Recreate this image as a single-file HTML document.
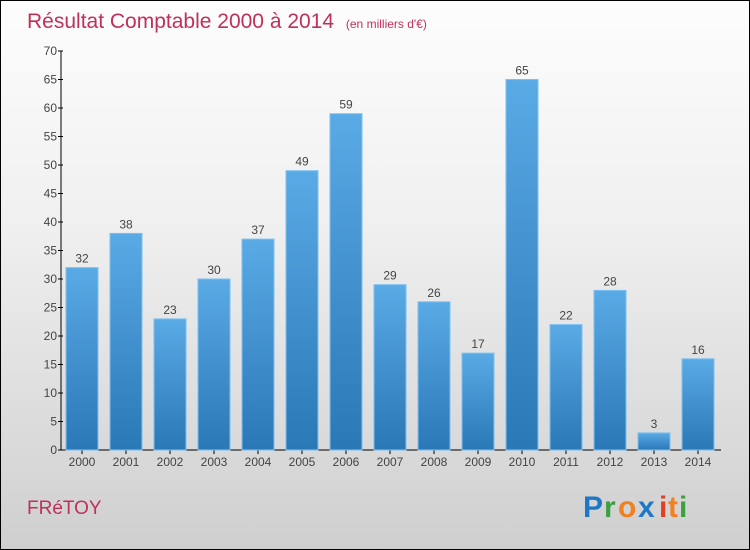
<!DOCTYPE html>
<html><head><meta charset="utf-8"><style>
body{margin:0}
#wrap{position:relative;width:748px;height:548px;border:1px solid #000;background:linear-gradient(#fdfdfd,#f0f0f0 40%,#cfcfcf);font-family:"Liberation Sans",sans-serif;overflow:hidden}
</style></head><body>
<div id="wrap">
<svg id="chart" width="748" height="548" xmlns="http://www.w3.org/2000/svg">
<defs><linearGradient id="bg" x1="0" y1="0" x2="0" y2="1"><stop offset="0" stop-color="#5aaae6"/><stop offset="1" stop-color="#2a78b6"/></linearGradient></defs>
<text x="26" y="27" font-size="21" fill="#c0305a">Résultat Comptable 2000 à 2014 <tspan font-size="12" dx="6">(en milliers d'€)</tspan></text>
<text x="26" y="513" font-size="19" fill="#c0305a">FRéTOY</text>
<g font-size="30" font-weight="bold">
<text x="582" y="516" fill="#1e78c8">P</text><text x="603" y="516" fill="#3aa040">r</text><text x="617" y="516" fill="#f08020">o</text><text x="637" y="516" fill="#1e78c8">x</text><text x="658" y="516" fill="#e04020">i</text><text x="667" y="516" fill="#f08020">t</text><text x="678" y="516" fill="#3aa040">i</text>
</g>
<g id="axes"></g><g id="bars"></g>
</svg>
</div>
<script>
const categories=["2000","2001","2002","2003","2004","2005","2006","2007","2008","2009","2010","2011","2012","2013","2014"];
const values=[32,38,23,30,37,49,59,29,26,17,65,22,28,3,16];
const yTicks=[0,5,10,15,20,25,30,35,40,45,50,55,60,65,70];
const NS="http://www.w3.org/2000/svg";
const y0=449,yTop=50,yMax=70,x0=60,step=44,bw=32,firstC=81;
const yS=v=>y0-(v/yMax)*(y0-yTop);
const xS=i=>firstC+i*step;
function mk(t,a,p){const e=document.createElementNS(NS,t);for(const k in a)e.setAttribute(k,a[k]);p.appendChild(e);return e;}
const ax=document.getElementById('axes'),bs=document.getElementById('bars');
let l=mk('line',{x1:x0,y1:yTop,x2:x0,y2:y0,stroke:'#000'},ax);


l=mk('line',{x1:x0,y1:y0,x2:720,y2:y0,stroke:'#000'},ax);


yTicks.forEach(v=>{
 const t=mk('line',{x1:x0-3,x2:x0+2,y1:yS(v),y2:yS(v),stroke:'#000'},ax);
 
 
 const tx=mk('text',{x:x0-4,y:yS(v)+4,'font-size':12,fill:'#444','text-anchor':'end'},ax);
 tx.textContent=v;
 
 
});
categories.forEach((c,i)=>{
 const v=values[i],x=xS(i);
 const r=mk('rect',{x:x-bw/2,y:yS(v),width:bw,height:y0-yS(v),fill:'url(#bg)',stroke:'#7cc0f0','stroke-width':1},bs);
 
 
 const vl=mk('text',{x:x,y:yS(v)-5,'font-size':12,fill:'#444','text-anchor':'middle'},bs);
 vl.textContent=v;
 
 
 const t=mk('line',{x1:x,x2:x,y1:y0,y2:y0+4,stroke:'#000'},ax);
 
 
 const xl=mk('text',{x:x,y:y0+16,'font-size':12,fill:'#444','text-anchor':'middle'},ax);
 xl.textContent=c;
 
 
});
</script>
</body></html>
